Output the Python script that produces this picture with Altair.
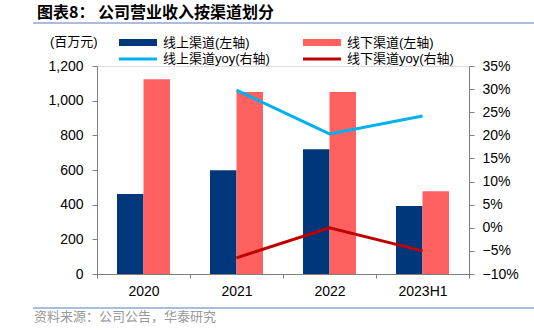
import altair as alt
import pandas as pd

categories = ["2020", "2021", "2022", "2023H1"]
online = [462, 598, 719, 392]
offline = [1123, 1050, 1050, 477]
online_yoy = [None, 0.298, 0.203, 0.242]
offline_yoy = [None, -0.065, 0.0, -0.050]

bar_series = ["线上渠道(左轴)", "线下渠道(左轴)"]
line_series = ["线上渠道yoy(右轴)", "线下渠道yoy(右轴)"]
bar_colors = ["#00377A", "#FF6161"]
line_colors = ["#00B0F0", "#C00000"]

left_ticks = [0, 200, 400, 600, 800, 1000, 1200]
right_ticks = [-0.10, -0.05, 0.0, 0.05, 0.10, 0.15, 0.20, 0.25, 0.30, 0.35]

title_text = "图表8：  公司营业收入按渠道划分"
unit_text = "(百万元)"
source_text = "资料来源：公司公告，华泰研究"

rows = []
for i, c in enumerate(categories):
    rows.append({"cat": c, "series": bar_series[0], "value": online[i]})
    rows.append({"cat": c, "series": bar_series[1], "value": offline[i]})
bars_df = pd.DataFrame(rows)

lrows = []
for i, c in enumerate(categories):
    if online_yoy[i] is not None:
        lrows.append({"cat": c, "series": line_series[0], "yoy": online_yoy[i]})
    if offline_yoy[i] is not None:
        lrows.append({"cat": c, "series": line_series[1], "yoy": offline_yoy[i]})
lines_df = pd.DataFrame(lrows)

NUM_FONT = "Liberation Sans"
CJK_FONT = "Liberation Sans, Noto Sans CJK SC"
GRAY = "#808080"

x_enc = alt.X(
    "cat:N",
    sort=categories,
    scale=alt.Scale(paddingInner=0, paddingOuter=0),
    axis=alt.Axis(
        title=None, labelAngle=0, tickBand="extent", labelFont=NUM_FONT,
        labelFontSize=14, labelColor="#000000", domainColor=GRAY, tickColor=GRAY,
        tickSize=4, labelPadding=6,
    ),
)

bars = alt.Chart(bars_df).mark_bar().encode(
    x=x_enc,
    xOffset=alt.XOffset("series:N", sort=bar_series,
                        scale=alt.Scale(paddingOuter=0.755, paddingInner=0)),
    y=alt.Y("value:Q", scale=alt.Scale(domain=[0, 1200], nice=False),
            axis=alt.Axis(title=None, values=left_ticks, format=",.0f", grid=False,
                          labelFont=NUM_FONT, labelFontSize=14, labelColor="#000000",
                          domainColor=GRAY, tickColor=GRAY, tickSize=5, labelPadding=9)),
    color=alt.Color("series:N", scale=alt.Scale(domain=bar_series, range=bar_colors),
                    legend=None),
)

lines = alt.Chart(lines_df).mark_line(strokeWidth=3).encode(
    x=alt.X("cat:N", sort=categories),
    y=alt.Y("yoy:Q", scale=alt.Scale(domain=[-0.10, 0.35], nice=False),
            axis=alt.Axis(title=None, orient="right", values=right_ticks, format=".0%",
                          grid=False, labelFont=NUM_FONT, labelFontSize=14,
                          labelColor="#000000", domainColor=GRAY, tickColor=GRAY,
                          tickSize=5, labelPadding=8)),
    stroke=alt.Stroke("series:N", scale=alt.Scale(domain=line_series, range=line_colors),
                      legend=None),
)

one = pd.DataFrame({"k": [0]})


def txt(text, x, y, size=13, color="#000000", weight="normal", align="left", font=CJK_FONT):
    return alt.Chart(one).mark_text(
        text=text, align=align, baseline="middle", fontSize=size, color=color,
        fontWeight=weight, font=font,
    ).encode(x=alt.value(x), y=alt.value(y))


def rule(x1, x2, y, color, width):
    return alt.Chart(one).mark_rule(color=color, strokeWidth=width).encode(
        x=alt.value(x1), x2=alt.value(x2), y=alt.value(y))


def rect(x1, x2, y1, y2, color):
    return alt.Chart(one).mark_rect(color=color).encode(
        x=alt.value(x1), x2=alt.value(x2), y=alt.value(y1), y2=alt.value(y2))


annotations = [
    txt(title_text, -60, -53, size=16, weight="bold", font="Noto Sans CJK SC"),
    rule(-64, 437, -43, "#8EA9CF", 1.5),
    txt(unit_text, -47, -24, size=13),
    rect(22, 60, -27, -20, bar_colors[0]),
    txt(bar_series[0], 66, -23),
    rect(206, 244, -27, -20, bar_colors[1]),
    txt(bar_series[1], 250, -23),
    rule(22, 60, -7, line_colors[0], 3),
    txt(line_series[0], 66, -7),
    rule(206, 244, -7, line_colors[1], 3),
    txt(line_series[1], 250, -7),
    rule(-64, 437, 242, "#8EA9CF", 1.5),
    txt(source_text, -63, 251, size=13, color="#999999", font="Noto Sans CJK SC"),
]

chart = alt.layer(bars, lines, *annotations).resolve_scale(
    y="independent", color="independent", stroke="independent"
).properties(
    width=372, height=208,
    autosize=alt.AutoSizeParams(type="none"),
    padding={"left": 97, "top": 66, "right": 65, "bottom": 58},
).configure_view(stroke=None).configure(background="white")

chart.save("out.html", embed_options={"renderer": "svg", "actions": False})
